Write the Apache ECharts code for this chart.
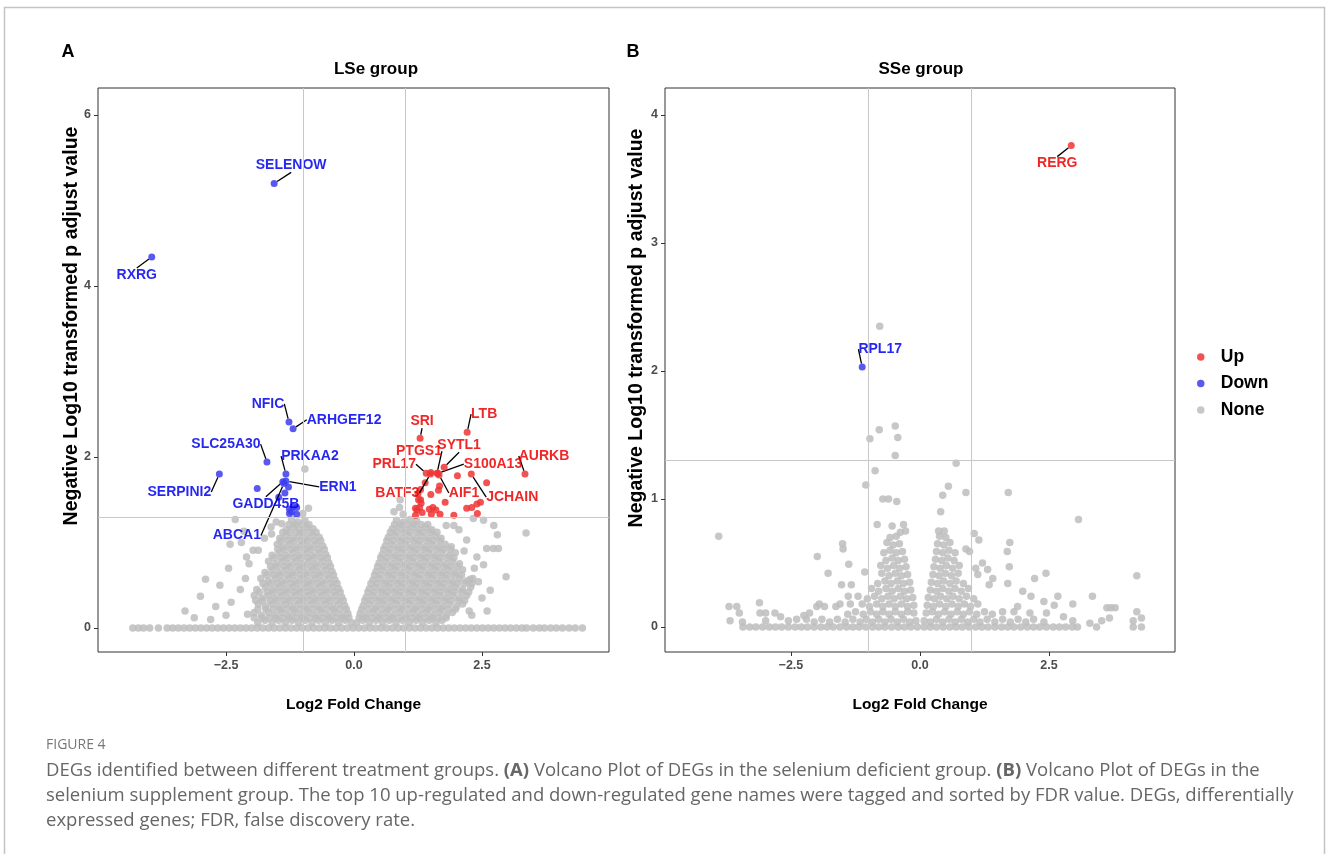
<!DOCTYPE html>
<html>
<head>
<meta charset="utf-8">
<script src="https://cdn.jsdelivr.net/npm/echarts@6/dist/echarts.min.js"></script>
<style>
html,body{margin:0;padding:0;background:#fff;}
#chart{width:1328px;height:854px;}
</style>
</head>
<body>
<div id="chart"></div>
<script>
// ---------------- DATA ----------------
const xTicks = [-2.5, 0, 2.5];
const lseYTicks = [0, 2, 4, 6];
const sseYTicks = [0, 1, 2, 3, 4];
const fcCut = 1;
const padjCut = 1.301;

// LSe group: genes with adjusted p = 1 (y = 0), x only
const lseBaselineX = [-4.32,-4.21,-4.11,-3.99,-3.82,-3.65,-3.54,-3.43,-3.32,-3.21,-3.1,-2.99,-2.88,-2.77,-2.66,-2.55,-2.44,-2.33,-2.22,-2.11,-2.0,-1.89,-1.78,-1.67,-1.56,-1.45,-1.34,-1.23,-1.12,-1.01,-0.9,-0.79,-0.68,-0.57,-0.46,-0.35,-0.24,-0.13,-0.02,0.09,0.2,0.31,0.42,0.53,0.64,0.75,0.86,0.97,1.08,1.19,1.3,1.41,1.52,1.63,1.74,1.85,1.96,2.07,2.18,2.29,2.4,2.51,2.62,2.73,2.84,2.95,3.06,3.17,3.28,3.37,3.5,3.62,3.72,3.84,3.95,4.07,4.2,4.32,4.46];

// LSe group: non-significant genes [log2FC, -log10 padj]
const lseNone = [
[-0.05,0.06],[-0.17,0.09],[-0.3,0.06],[-0.43,0.09],[-0.56,0.06],[-0.69,0.09],[-0.82,0.06],[-0.95,0.09],[-1.08,0.06],[-1.21,0.09],[-1.34,0.06],[-1.47,0.09],[-1.6,0.06],[-1.74,0.09],[-1.88,0.06],
[-0.1,0.12],[-0.23,0.12],[-0.36,0.12],[-0.49,0.12],[-0.62,0.12],[-0.75,0.12],[-0.88,0.12],[-1.01,0.12],[-1.14,0.12],[-1.27,0.12],[-1.4,0.12],[-1.53,0.12],[-1.66,0.12],[-1.8,0.12],[-1.95,0.12],
[-0.12,0.17],[-0.24,0.15],[-0.37,0.18],[-0.5,0.15],[-0.63,0.18],[-0.76,0.15],[-0.89,0.18],[-1.02,0.15],[-1.15,0.18],[-1.28,0.15],[-1.41,0.18],[-1.54,0.15],[-1.67,0.18],[-1.81,0.15],[-1.95,0.18],[-2.08,0.16],
[-0.15,0.22],[-0.28,0.22],[-0.41,0.22],[-0.54,0.22],[-0.67,0.22],[-0.8,0.22],[-0.93,0.22],[-1.06,0.22],[-1.19,0.22],[-1.32,0.22],[-1.45,0.22],[-1.58,0.22],[-1.72,0.22],[-1.88,0.22],
[-0.18,0.26],[-0.3,0.28],[-0.43,0.25],[-0.56,0.28],[-0.69,0.25],[-0.82,0.28],[-0.95,0.25],[-1.08,0.28],[-1.21,0.25],[-1.34,0.28],[-1.47,0.25],[-1.6,0.28],[-1.73,0.25],[-1.87,0.28],
[-0.21,0.32],[-0.34,0.32],[-0.47,0.32],[-0.6,0.32],[-0.73,0.32],[-0.86,0.32],[-0.99,0.32],[-1.12,0.32],[-1.25,0.32],[-1.38,0.32],[-1.51,0.32],[-1.64,0.32],[-1.78,0.32],[-1.92,0.32],
[-0.24,0.36],[-0.37,0.38],[-0.5,0.35],[-0.63,0.38],[-0.76,0.35],[-0.89,0.38],[-1.02,0.35],[-1.15,0.38],[-1.28,0.35],[-1.41,0.38],[-1.54,0.35],[-1.67,0.38],[-1.8,0.35],[-1.95,0.38],
[-0.27,0.42],[-0.4,0.42],[-0.53,0.42],[-0.66,0.42],[-0.79,0.42],[-0.92,0.42],[-1.05,0.42],[-1.18,0.42],[-1.31,0.42],[-1.44,0.42],[-1.57,0.42],[-1.7,0.42],[-1.85,0.42],
[-0.3,0.46],[-0.42,0.48],[-0.55,0.45],[-0.68,0.48],[-0.81,0.45],[-0.94,0.48],[-1.07,0.45],[-1.2,0.48],[-1.33,0.45],[-1.46,0.48],[-1.59,0.45],[-1.73,0.48],[-1.9,0.45],
[-0.33,0.52],[-0.46,0.52],[-0.59,0.52],[-0.72,0.52],[-0.85,0.52],[-0.98,0.52],[-1.11,0.52],[-1.24,0.52],[-1.37,0.52],[-1.5,0.52],[-1.63,0.52],[-1.78,0.52],
[-0.37,0.56],[-0.49,0.58],[-0.62,0.55],[-0.75,0.58],[-0.88,0.55],[-1.01,0.58],[-1.14,0.55],[-1.27,0.58],[-1.4,0.55],[-1.53,0.58],[-1.67,0.55],[-1.82,0.58],
[-0.4,0.62],[-0.53,0.62],[-0.66,0.62],[-0.79,0.62],[-0.92,0.62],[-1.05,0.62],[-1.18,0.62],[-1.31,0.62],[-1.44,0.62],[-1.57,0.62],[-1.7,0.62],
[-0.43,0.66],[-0.55,0.68],[-0.68,0.65],[-0.81,0.68],[-0.94,0.65],[-1.07,0.68],[-1.2,0.65],[-1.33,0.68],[-1.46,0.65],[-1.6,0.68],[-1.74,0.65],
[-0.46,0.72],[-0.59,0.72],[-0.72,0.72],[-0.85,0.72],[-0.98,0.72],[-1.11,0.72],[-1.24,0.72],[-1.37,0.72],[-1.5,0.72],[-1.63,0.72],
[-0.49,0.76],[-0.62,0.78],[-0.75,0.75],[-0.88,0.78],[-1.01,0.75],[-1.14,0.78],[-1.27,0.75],[-1.4,0.78],[-1.53,0.75],[-1.67,0.78],
[-0.52,0.82],[-0.65,0.82],[-0.78,0.82],[-0.91,0.82],[-1.04,0.82],[-1.17,0.82],[-1.3,0.82],[-1.43,0.82],[-1.56,0.82],
[-0.55,0.86],[-0.68,0.88],[-0.81,0.85],[-0.94,0.88],[-1.07,0.85],[-1.2,0.88],[-1.33,0.85],[-1.46,0.88],[-1.6,0.85],
[-0.58,0.92],[-0.71,0.92],[-0.84,0.92],[-0.97,0.92],[-1.1,0.92],[-1.23,0.92],[-1.36,0.92],[-1.49,0.92],
[-0.61,0.96],[-0.74,0.98],[-0.87,0.95],[-1.0,0.98],[-1.13,0.95],[-1.26,0.98],[-1.39,0.95],[-1.5,0.98],
[-0.65,1.02],[-0.78,1.02],[-0.91,1.02],[-1.04,1.02],[-1.17,1.02],[-1.3,1.02],[-1.43,1.02],
[-0.68,1.06],[-0.81,1.08],[-0.94,1.05],[-1.07,1.08],[-1.2,1.05],[-1.33,1.08],[-1.45,1.05],
[-0.74,1.12],[-0.87,1.12],[-1.0,1.12],[-1.13,1.12],[-1.26,1.12],[-1.39,1.12],
[-0.8,1.16],[-0.93,1.18],[-1.06,1.15],[-1.19,1.18],[-1.32,1.15],
[-0.88,1.21],[-1.01,1.21],[-1.14,1.21],[-1.27,1.21],
[-0.96,1.26],[-1.1,1.24],[-1.22,1.27],
[0.05,0.06],[0.17,0.09],[0.3,0.06],[0.43,0.09],[0.56,0.06],[0.69,0.09],[0.82,0.06],[0.95,0.09],[1.08,0.06],[1.21,0.09],[1.34,0.06],[1.47,0.09],[1.6,0.06],[1.72,0.09],
[0.1,0.12],[0.23,0.12],[0.36,0.12],[0.49,0.12],[0.62,0.12],[0.75,0.12],[0.88,0.12],[1.01,0.12],[1.14,0.12],[1.27,0.12],[1.4,0.12],[1.53,0.12],[1.66,0.12],[1.8,0.12],
[0.12,0.17],[0.24,0.15],[0.37,0.18],[0.5,0.15],[0.63,0.18],[0.76,0.15],[0.89,0.18],[1.02,0.15],[1.15,0.18],[1.28,0.15],[1.41,0.18],[1.54,0.15],[1.67,0.18],[1.8,0.15],[1.92,0.18],
[0.15,0.22],[0.28,0.22],[0.41,0.22],[0.54,0.22],[0.67,0.22],[0.8,0.22],[0.93,0.22],[1.06,0.22],[1.19,0.22],[1.32,0.22],[1.45,0.22],[1.58,0.22],[1.71,0.22],[1.84,0.22],[1.98,0.22],
[0.18,0.26],[0.3,0.28],[0.43,0.25],[0.56,0.28],[0.69,0.25],[0.82,0.28],[0.95,0.25],[1.08,0.28],[1.21,0.25],[1.34,0.28],[1.47,0.25],[1.6,0.28],[1.73,0.25],[1.86,0.28],[2.0,0.25],[2.12,0.28],
[0.21,0.32],[0.34,0.32],[0.47,0.32],[0.6,0.32],[0.73,0.32],[0.86,0.32],[0.99,0.32],[1.12,0.32],[1.25,0.32],[1.38,0.32],[1.51,0.32],[1.64,0.32],[1.77,0.32],[1.9,0.32],[2.04,0.32],[2.16,0.32],
[0.24,0.36],[0.37,0.38],[0.5,0.35],[0.63,0.38],[0.76,0.35],[0.89,0.38],[1.02,0.35],[1.15,0.38],[1.28,0.35],[1.41,0.38],[1.54,0.35],[1.67,0.38],[1.8,0.35],[1.93,0.38],[2.06,0.35],[2.2,0.38],
[0.27,0.42],[0.4,0.42],[0.53,0.42],[0.66,0.42],[0.79,0.42],[0.92,0.42],[1.05,0.42],[1.18,0.42],[1.31,0.42],[1.44,0.42],[1.57,0.42],[1.7,0.42],[1.83,0.42],[1.96,0.42],[2.1,0.42],[2.24,0.42],
[0.3,0.46],[0.42,0.48],[0.55,0.45],[0.68,0.48],[0.81,0.45],[0.94,0.48],[1.07,0.45],[1.2,0.48],[1.33,0.45],[1.46,0.48],[1.59,0.45],[1.72,0.48],[1.85,0.45],[1.98,0.48],[2.12,0.45],[2.28,0.48],
[0.33,0.52],[0.46,0.52],[0.59,0.52],[0.72,0.52],[0.85,0.52],[0.98,0.52],[1.11,0.52],[1.24,0.52],[1.37,0.52],[1.5,0.52],[1.63,0.52],[1.76,0.52],[1.89,0.52],[2.02,0.52],[2.16,0.52],[2.3,0.52],
[0.37,0.56],[0.49,0.58],[0.62,0.55],[0.75,0.58],[0.88,0.55],[1.01,0.58],[1.14,0.55],[1.27,0.58],[1.4,0.55],[1.53,0.58],[1.66,0.55],[1.79,0.58],[1.92,0.55],[2.06,0.58],[2.2,0.55],[2.32,0.58],
[0.4,0.62],[0.53,0.62],[0.66,0.62],[0.79,0.62],[0.92,0.62],[1.05,0.62],[1.18,0.62],[1.31,0.62],[1.44,0.62],[1.57,0.62],[1.7,0.62],[1.83,0.62],[1.96,0.62],[2.1,0.62],
[0.43,0.66],[0.55,0.68],[0.68,0.65],[0.81,0.68],[0.94,0.65],[1.07,0.68],[1.2,0.65],[1.33,0.68],[1.46,0.65],[1.59,0.68],[1.72,0.65],[1.85,0.68],[1.98,0.65],[2.12,0.68],
[0.46,0.72],[0.59,0.72],[0.72,0.72],[0.85,0.72],[0.98,0.72],[1.11,0.72],[1.24,0.72],[1.37,0.72],[1.5,0.72],[1.63,0.72],[1.76,0.72],[1.89,0.72],[2.02,0.72],
[0.49,0.76],[0.62,0.78],[0.75,0.75],[0.88,0.78],[1.01,0.75],[1.14,0.78],[1.27,0.75],[1.4,0.78],[1.53,0.75],[1.66,0.78],[1.79,0.75],[1.92,0.78],[2.06,0.75],
[0.52,0.82],[0.65,0.82],[0.78,0.82],[0.91,0.82],[1.04,0.82],[1.17,0.82],[1.3,0.82],[1.43,0.82],[1.56,0.82],[1.69,0.82],[1.82,0.82],[1.95,0.82],
[0.55,0.86],[0.68,0.88],[0.81,0.85],[0.94,0.88],[1.07,0.85],[1.2,0.88],[1.33,0.85],[1.46,0.88],[1.59,0.85],[1.72,0.88],[1.86,0.85],[1.98,0.88],
[0.58,0.92],[0.71,0.92],[0.84,0.92],[0.97,0.92],[1.1,0.92],[1.23,0.92],[1.36,0.92],[1.49,0.92],[1.62,0.92],[1.75,0.92],[1.88,0.92],
[0.61,0.96],[0.74,0.98],[0.87,0.95],[1.0,0.98],[1.13,0.95],[1.26,0.98],[1.39,0.95],[1.52,0.98],[1.65,0.95],[1.78,0.98],[1.9,0.95],
[0.64,1.02],[0.77,1.02],[0.9,1.02],[1.03,1.02],[1.16,1.02],[1.29,1.02],[1.42,1.02],[1.55,1.02],[1.68,1.02],
[0.67,1.06],[0.8,1.08],[0.93,1.05],[1.06,1.08],[1.19,1.05],[1.32,1.08],[1.45,1.05],[1.58,1.08],[1.7,1.05],
[0.71,1.12],[0.84,1.12],[0.97,1.12],[1.1,1.12],[1.23,1.12],[1.36,1.12],[1.49,1.12],[1.62,1.12],
[0.75,1.16],[0.88,1.18],[1.01,1.15],[1.14,1.18],[1.27,1.15],[1.4,1.18],[1.52,1.15],
[0.79,1.21],[0.92,1.21],[1.05,1.21],[1.18,1.21],[1.31,1.21],[1.44,1.21],
[0.83,1.26],[0.96,1.24],[1.09,1.27],[1.22,1.25],
[-2.32,1.27],[-2.1,0.83],[-3.0,0.37],[-2.9,0.57],[-2.62,0.5],[-2.45,0.7],[-2.2,1.0],[-1.75,1.05],[-2.4,0.3],[-2.7,0.25],[-3.3,0.2],[-2.22,0.45],[-2.05,0.75],[-2.12,0.58],[-1.62,1.18],[-1.52,1.24],[-2.5,0.15],[-3.12,0.12],[-2.8,0.1],[-0.96,1.86],[-0.89,1.4],[-1.0,1.34],[-1.41,1.22],[-1.61,1.1],[-2.15,1.13],[-1.97,0.91],[-1.87,0.91],[-2.42,0.98],
[2.97,0.6],[2.59,0.93],[2.72,0.93],[2.82,0.93],[2.8,1.09],[2.73,1.2],[2.53,1.26],[2.33,1.28],[2.2,1.03],[2.4,0.83],[2.53,0.74],[2.43,0.54],[2.66,0.44],[3.36,1.11],[2.27,0.57],[0.9,1.5],[0.89,1.41],[0.96,1.33],[0.78,1.36],[2.35,0.7],[2.5,0.35],[2.3,0.15],[2.6,0.2],[2.15,0.9],[2.25,0.2],[1.95,1.2],[2.05,1.15],[1.8,1.2]
];

// LSe group: top tagged genes
const lseDownGenes = ['SELENOW','RXRG','NFIC','ARHGEF12','SLC25A30','PRKAA2','SERPINI2','ERN1','GADD45B','ABCA1'];
const lseDownTagged = [[-1.56,5.20],[-3.95,4.34],[-1.27,2.41],[-1.19,2.33],[-1.70,1.94],[-1.33,1.80],[-2.63,1.80],[-1.33,1.72],[-1.39,1.71],[-1.37,1.69]];
const lseDownOther = [[-1.28,1.65],[-1.89,1.63],[-1.47,1.53],[-1.26,1.39],[-1.12,1.41],[-1.26,1.34],[-1.12,1.33],[-1.19,1.42],[-1.35,1.58],[-1.22,1.36]];
const lseUpGenes = ['SRI','LTB','SYTL1','PTGS1','PRL17','S100A13','BATF3','AIF1','JCHAIN','AURKB'];
const lseUpTagged = [[1.29,2.22],[2.21,2.29],[1.76,1.88],[1.62,1.81],[1.41,1.81],[1.64,1.81],[1.49,1.80],[1.66,1.79],[2.29,1.80],[3.34,1.80]];
const lseUpOther = [[1.50,1.82],[2.02,1.78],[2.59,1.70],[1.67,1.66],[1.30,1.62],[1.65,1.61],[1.30,1.50],[1.78,1.47],[1.28,1.41],[1.20,1.40],[1.54,1.41],[1.60,1.38],[2.20,1.40],[2.30,1.41],[2.40,1.45],[2.47,1.47],[2.41,1.34],[1.20,1.32],[1.95,1.32],[1.68,1.33],[1.51,1.33],[1.33,1.35],[1.39,1.70],[1.26,1.50],[1.31,1.46],[1.23,1.38],[1.47,1.39],[1.50,1.56],[1.25,1.57]];

// SSe group
const sseBaselineX = [-3.43,-3.3,-3.18,-3.05,-2.92,-2.8,-2.68,-2.55,-2.42,-2.3,-2.18,-2.05,-1.92,-1.8,-1.68,-1.55,-1.42,-1.3,-1.18,-1.05,-0.92,-0.8,-0.68,-0.55,-0.42,-0.3,-0.18,-0.05,0.08,0.2,0.32,0.45,0.58,0.7,0.82,0.95,1.08,1.2,1.32,1.45,1.58,1.7,1.82,1.95,2.08,2.2,2.32,2.45,2.58,2.7,2.82,2.95,3.05,3.42,4.13,4.29];
const sseNone = [
[-0.08,0.05],[-0.2,0.04],[-0.32,0.06],[-0.44,0.04],[-0.56,0.06],[-0.68,0.04],[-0.8,0.06],[-0.92,0.04],[-1.04,0.06],[-1.16,0.04],[-1.3,0.06],[-1.45,0.04],[-1.6,0.06],[-1.75,0.04],[-1.9,0.06],[-2.05,0.04],[-2.2,0.06],
[-0.12,0.11],[-0.24,0.12],[-0.36,0.1],[-0.48,0.12],[-0.6,0.1],[-0.72,0.12],[-0.84,0.1],[-0.96,0.12],[-1.1,0.1],[-1.25,0.12],[-1.4,0.1],
[-0.12,0.17],[-0.24,0.16],[-0.36,0.18],[-0.48,0.16],[-0.6,0.18],[-0.72,0.16],[-0.84,0.18],[-0.98,0.16],[-1.12,0.18],
[-0.14,0.23],[-0.26,0.22],[-0.38,0.24],[-0.5,0.22],[-0.62,0.24],[-0.74,0.22],[-0.88,0.24],[-1.02,0.22],
[-0.18,0.29],[-0.3,0.28],[-0.42,0.3],[-0.54,0.28],[-0.66,0.3],[-0.8,0.28],[-0.94,0.3],
[-0.2,0.35],[-0.32,0.34],[-0.44,0.36],[-0.56,0.34],[-0.68,0.36],[-0.82,0.34],
[-0.24,0.41],[-0.36,0.4],[-0.48,0.42],[-0.6,0.4],[-0.74,0.42],
[-0.27,0.47],[-0.39,0.46],[-0.51,0.48],[-0.63,0.46],[-0.76,0.48],
[-0.3,0.53],[-0.42,0.52],[-0.54,0.54],[-0.66,0.52],
[-0.34,0.59],[-0.46,0.58],[-0.58,0.6],[-0.7,0.58],
[-0.4,0.65],[-0.52,0.64],[-0.64,0.66],
[-0.46,0.71],[-0.58,0.7],
[0.08,0.05],[0.2,0.04],[0.32,0.06],[0.44,0.04],[0.56,0.06],[0.68,0.04],[0.8,0.06],[0.92,0.04],[1.04,0.06],[1.16,0.04],[1.3,0.06],[1.45,0.04],[1.6,0.06],[1.75,0.04],[1.9,0.06],[2.05,0.04],[2.2,0.06],[2.4,0.04],
[0.12,0.11],[0.24,0.12],[0.36,0.1],[0.48,0.12],[0.6,0.1],[0.72,0.12],[0.84,0.1],[0.96,0.12],[1.1,0.1],[1.25,0.12],[1.4,0.1],[1.6,0.12],
[0.14,0.17],[0.26,0.16],[0.38,0.18],[0.5,0.16],[0.62,0.18],[0.74,0.16],[0.86,0.18],[0.98,0.16],[1.12,0.18],
[0.16,0.23],[0.28,0.22],[0.4,0.24],[0.52,0.22],[0.64,0.24],[0.76,0.22],[0.9,0.24],[1.04,0.22],
[0.2,0.29],[0.32,0.28],[0.44,0.3],[0.56,0.28],[0.68,0.3],[0.8,0.28],[0.94,0.3],
[0.22,0.35],[0.34,0.34],[0.46,0.36],[0.58,0.34],[0.7,0.36],[0.84,0.34],
[0.25,0.41],[0.37,0.4],[0.49,0.42],[0.61,0.4],[0.74,0.42],
[0.27,0.47],[0.39,0.46],[0.51,0.48],[0.63,0.46],[0.76,0.48],
[0.3,0.53],[0.42,0.52],[0.54,0.54],[0.66,0.52],
[0.32,0.59],[0.44,0.58],[0.56,0.6],[0.68,0.58],
[0.34,0.65],[0.46,0.64],[0.58,0.66],
[0.38,0.71],[0.5,0.7],
[-0.78,2.35],[-0.79,1.54],[-0.97,1.47],[-0.48,1.57],[-0.43,1.48],[-0.48,1.34],[0.70,1.28],[-0.87,1.22],[-1.05,1.11],[0.55,1.10],[0.44,1.03],[0.89,1.05],[1.71,1.05],[-0.72,1.0],[-0.61,1.0],[-0.45,0.98],[0.40,0.90],[3.07,0.84],[-0.83,0.80],[-0.54,0.79],[-0.32,0.80],[-0.38,0.74],[-0.28,0.75],[0.36,0.75],[0.47,0.75],[1.05,0.73],[1.14,0.68],[-3.90,0.71],[1.74,0.66],[1.69,0.59],[1.73,0.47],[1.70,0.34],[-1.50,0.65],[-1.49,0.61],[-1.99,0.55],[-1.78,0.42],[-1.38,0.49],[-1.52,0.33],[-1.33,0.33],[-1.07,0.43],[0.89,0.61],[0.96,0.59],[1.21,0.50],[1.31,0.45],[1.08,0.46],[1.12,0.41],[1.41,0.38],[1.34,0.33],[1.99,0.28],[2.22,0.38],[2.44,0.42],[2.15,0.24],[2.67,0.24],[3.34,0.24],[4.20,0.40],[2.96,0.18],[2.40,0.20],[1.89,0.16],
[-3.70,0.16],[-3.55,0.16],[-3.5,0.11],[-3.68,0.05],[-3.44,0.04],[-3.11,0.19],[-3.1,0.11],[-2.99,0.11],[-2.81,0.11],[-2.99,0.05],[-2.39,0.06],[-2.25,0.09],[-2.14,0.11],[-2.0,0.16],[-1.95,0.18],[-1.85,0.16],[-1.63,0.16],[-1.55,0.18],[-1.39,0.24],[-1.35,0.18],[-1.2,0.24],[-2.55,0.05],[-2.7,0.08],
[1.82,0.12],[2.13,0.11],[2.45,0.11],[2.6,0.17],[3.62,0.15],[3.7,0.15],[3.78,0.15],[3.67,0.07],[3.52,0.05],[4.2,0.12],[4.29,0.07],[4.13,0.05],[3.29,0.03],[2.96,0.05],[2.78,0.08]
];
const sseUpGenes = ['RERG'];
const sseUpTagged = [[2.93,3.76]];
const sseDownGenes = ['RPL17'];
const sseDownTagged = [[-1.12,2.03]];

// ---------------- LAYOUT / STYLE (not data) ----------------
const labelOffsets = {
  SELENOW:[17,-18], RXRG:[-15,18], NFIC:[-21,-18], ARHGEF12:[51,-9], SLC25A30:[-41,-18],
  PRKAA2:[24,-18], SERPINI2:[-40,18], ERN1:[52,6], GADD45B:[-17,22], ABCA1:[-47,52],
  SRI:[2,-17], LTB:[17,-18], SYTL1:[15,-22], PTGS1:[-18,-22], PRL17:[-32,-9],
  S100A13:[55,-9], BATF3:[-33,19], AIF1:[25,18], JCHAIN:[41,23], AURKB:[19,-18],
  RERG:[-14,18], RPL17:[18,-18]
};
const FONT = 'Liberation Sans, Arial, Helvetica, sans-serif';
const CAPFONT = 'Open Sans, sans-serif';
const COL = { Up:'#ee3535', Down:'#3c3cf0', None:'#bdbdbd' };
const LABCOL = { Up:'#ee0000', Down:'#0000ee' };
const SYM = 7, SYM_NONE = 7.5;

function fmtX(v){ return (v<0?'\u2212':'') + Math.abs(v).toFixed(1); }

function xAxisOf(idx, min, max){
  return {
    type:'value', gridIndex:idx, min:min, max:max,
    axisLine:{show:false, onZero:false},
    axisTick:{show:true, length:4, customValues:xTicks, lineStyle:{color:'#333', width:1}},
    axisLabel:{customValues:xTicks, formatter:fmtX, margin:7, color:'#4d4d4d', fontFamily:FONT, fontWeight:'bold', fontSize:12.5},
    splitLine:{show:false},
    name:'Log2 Fold Change', nameLocation:'middle', nameGap:45,
    nameTextStyle:{color:'#000', fontFamily:FONT, fontWeight:'bold', fontSize:15.5}
  };
}
function yAxisOf(idx, min, max, ticks){
  return {
    type:'value', gridIndex:idx, min:min, max:max,
    axisLine:{show:false, onZero:false},
    axisTick:{show:true, length:4, customValues:ticks, lineStyle:{color:'#333', width:1}},
    axisLabel:{customValues:ticks, margin:7, color:'#4d4d4d', fontFamily:FONT, fontWeight:'bold', fontSize:12.5},
    splitLine:{show:false}
  };
}
function cutLines(){
  return {
    silent:true, symbol:'none', label:{show:false},
    lineStyle:{color:'#c8c8c8', width:1, type:'solid'},
    data:[{xAxis:-fcCut},{xAxis:fcCut},{yAxis:padjCut}]
  };
}
function pointSeries(name, idx, data){
  return {
    name:name, type:'scatter', xAxisIndex:idx, yAxisIndex:idx, z:3,
    symbolSize:SYM, data:data, itemStyle:{color:COL[name], opacity:0.85}, emphasis:{disabled:true}
  };
}
function tagSeries(name, idx, genes, vals){
  return {
    name:name, type:'scatter', xAxisIndex:idx, yAxisIndex:idx, z:4,
    symbolSize:SYM, data:genes.map((g,i)=>({name:g, value:vals[i]})),
    itemStyle:{color:COL[name], opacity:0.85},
    label:{show:true, position:'inside', formatter:'{b}', color:LABCOL[name], fontFamily:FONT, fontWeight:'bold', fontSize:14},
    labelLine:{show:true, lineStyle:{color:'#000', width:1.3}},
    labelLayout:function(p){ const o = labelOffsets[p.text]; return o ? {dx:o[0], dy:o[1]} : {}; },
    emphasis:{disabled:true}
  };
}
function noneSeries(idx, baseX, pts){
  return {name:'None', type:'scatter', xAxisIndex:idx, yAxisIndex:idx, z:2, symbolSize:SYM_NONE,
    data: baseX.map(x=>[x,0]).concat(pts),
    itemStyle:{color:COL.None, opacity:0.85}, markLine:cutLines(), emphasis:{disabled:true}};
}

const chart = echarts.init(document.getElementById('chart'), null, {renderer:'canvas'});
const capRich = {
  n:{fill:'#666', color:'#666', fontFamily:CAPFONT, fontSize:18.5},
  b:{fill:'#666', color:'#666', fontFamily:CAPFONT, fontSize:18.5, fontWeight:'bold'}
};
const option = {
  animation:false,
  backgroundColor:'#ffffff',
  grid:[
    {left:98, top:88, width:511, height:564, show:true, borderColor:'#333', borderWidth:1, backgroundColor:'transparent'},
    {left:665, top:88, width:510, height:564, show:true, borderColor:'#333', borderWidth:1, backgroundColor:'transparent'}
  ],
  xAxis:[ xAxisOf(0,-5.0,4.98), xAxisOf(1,-4.94,4.94) ],
  yAxis:[ yAxisOf(0,-0.281,6.316,lseYTicks), yAxisOf(1,-0.195,4.21,sseYTicks) ],
  legend:{
    data:['Up','Down','None'], orient:'vertical', left:1192, top:343,
    icon:'circle', itemWidth:30, itemHeight:7.5, itemGap:8.5,
    textStyle:{color:'#000', fontFamily:FONT, fontWeight:'bold', fontSize:17.5, lineHeight:18},
    selectedMode:false
  },
  series:[
    noneSeries(0, lseBaselineX, lseNone),
    pointSeries('Down', 0, lseDownOther),
    pointSeries('Up', 0, lseUpOther),
    tagSeries('Down', 0, lseDownGenes, lseDownTagged),
    tagSeries('Up', 0, lseUpGenes, lseUpTagged),
    noneSeries(1, sseBaselineX, sseNone),
    tagSeries('Down', 1, sseDownGenes, sseDownTagged),
    tagSeries('Up', 1, sseUpGenes, sseUpTagged)
  ],
  graphic:[
    {type:'polyline', silent:true, shape:{points:[[4.5,854],[4.5,7.5],[1324.5,7.5],[1324.5,854]]}, style:{stroke:'#c4c4c4', lineWidth:1.5, fill:null}},
    {type:'text', x:68, y:52, style:{text:'A', fill:'#000', font:'bold 18px '+FONT, textAlign:'center', textVerticalAlign:'middle', align:'center', verticalAlign:'middle'}},
    {type:'text', x:633, y:52, style:{text:'B', fill:'#000', font:'bold 18px '+FONT, textAlign:'center', textVerticalAlign:'middle', align:'center', verticalAlign:'middle'}},
    {type:'text', x:376, y:69, style:{text:'LSe group', fill:'#000', font:'bold 17px '+FONT, textAlign:'center', textVerticalAlign:'middle', align:'center', verticalAlign:'middle'}},
    {type:'text', x:921, y:69, style:{text:'SSe group', fill:'#000', font:'bold 17px '+FONT, textAlign:'center', textVerticalAlign:'middle', align:'center', verticalAlign:'middle'}},
    {type:'text', x:72, y:326, rotation:Math.PI/2, style:{text:'Negative Log10 transformed p adjust value', fill:'#000', font:'bold 19.5px '+FONT, textAlign:'center', textVerticalAlign:'middle', align:'center', verticalAlign:'middle'}},
    {type:'text', x:637, y:328, rotation:Math.PI/2, style:{text:'Negative Log10 transformed p adjust value', fill:'#000', font:'bold 19.5px '+FONT, textAlign:'center', textVerticalAlign:'middle', align:'center', verticalAlign:'middle'}},
    {type:'text', x:46, y:745, style:{text:'FIGURE 4', fill:'#777', font:'14px '+CAPFONT, textVerticalAlign:'middle', verticalAlign:'middle'}},
    {type:'text', x:46, y:771, style:{
      text:'{n|DEGs identified between different treatment groups. }{b|(A)}{n| Volcano Plot of DEGs in the selenium deficient group. }{b|(B)}{n| Volcano Plot of DEGs in the}',
      textVerticalAlign:'middle', verticalAlign:'middle', rich:capRich}},
    {type:'text', x:46, y:796, style:{text:'selenium supplement group. The top 10 up-regulated and down-regulated gene names were tagged and sorted by FDR value. DEGs, differentially', fill:'#666', font:'18.5px '+CAPFONT, textVerticalAlign:'middle', verticalAlign:'middle'}},
    {type:'text', x:46, y:821, style:{text:'expressed genes; FDR, false discovery rate.', fill:'#666', font:'18.5px '+CAPFONT, textVerticalAlign:'middle', verticalAlign:'middle'}}
  ]
};
chart.setOption(option);
</script>
</body>
</html>
